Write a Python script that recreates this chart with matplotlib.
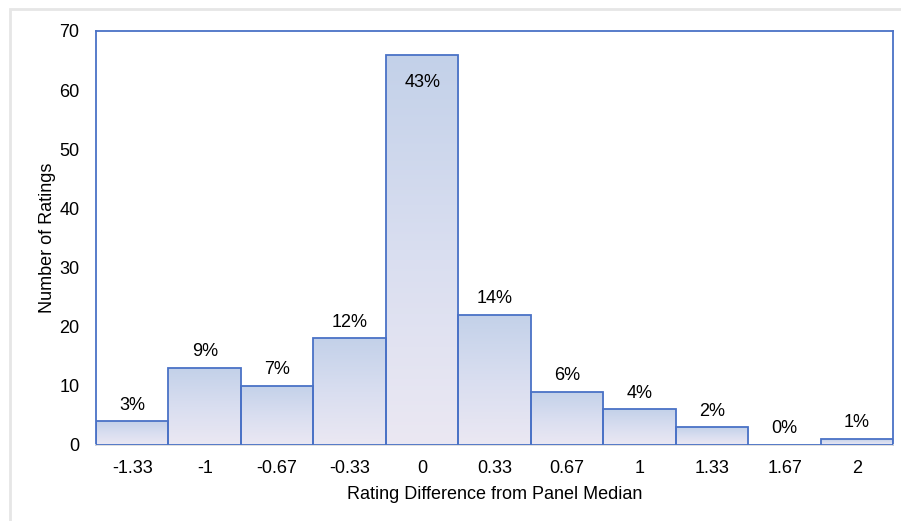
import numpy as np
import matplotlib.pyplot as plt
from matplotlib.colors import LinearSegmentedColormap
from matplotlib.patches import Rectangle

plt.rcParams['font.family'] = ['Liberation Sans', 'DejaVu Sans']

labels = ['-1.33', '-1', '-0.67', '-0.33', '0', '0.33', '0.67', '1', '1.33', '1.67', '2']
counts = [4, 13, 10, 18, 66, 22, 9, 6, 3, 0, 1]
pcts = ['3%', '9%', '7%', '12%', '43%', '14%', '6%', '4%', '2%', '0%', '1%']

edge = '#4a72c6'
cmap = LinearSegmentedColormap.from_list('g', ['#ebe8f3', '#d9def0', '#c3d1e9'])

fig = plt.figure(figsize=(9.01, 5.21), dpi=100)
ax = fig.add_axes([0.1065, 0.146, 0.885, 0.7945])

x = np.arange(len(labels))
bars = ax.bar(x, counts, width=1.0, color='none', edgecolor=edge, linewidth=1.3, zorder=3)

# vertical gradient inside each bar
grad = np.linspace(0, 1, 256).reshape(-1, 1)
for b in bars:
    h = b.get_height()
    if h <= 0:
        continue
    x0 = b.get_x()
    w = b.get_width()
    im = ax.imshow(grad, cmap=cmap, aspect='auto', origin='lower',
                   extent=[x0, x0 + w, 0, h], zorder=2)
    im.set_clip_path(Rectangle((x0, 0), w, h, transform=ax.transData))

fs = 13
for xi, c, p in zip(x, counts, pcts):
    if c > 60:
        ax.text(xi, c - 3.2, p, ha='center', va='top', fontsize=fs, zorder=4)
    else:
        ax.text(xi, c + 1.3, p, ha='center', va='bottom', fontsize=fs, zorder=4)

ax.set_xlim(-0.5, len(labels) - 0.5)
ax.set_ylim(0, 70)
ax.set_yticks(range(0, 71, 10))
ax.set_xticks(x)
ax.set_xticklabels(labels)
ax.tick_params(length=0, labelsize=fs, pad=12)
ax.tick_params(axis='x', pad=11)

for s in ['left', 'top', 'right']:
    ax.spines[s].set_color(edge)
    ax.spines[s].set_linewidth(1.3)
ax.spines['bottom'].set_color('#dcdcdc')
ax.spines['bottom'].set_linewidth(1.3)

ax.set_xlabel('Rating Difference from Panel Median', fontsize=fs, labelpad=6)
ax.set_ylabel('Number of Ratings', fontsize=fs, labelpad=2)

fig.patches.append(Rectangle((0.011, -0.1), 1.2, 1.083, transform=fig.transFigure,
                             fill=False, edgecolor='#e6e6e6', linewidth=2))

fig.savefig('out.png', dpi=100)
